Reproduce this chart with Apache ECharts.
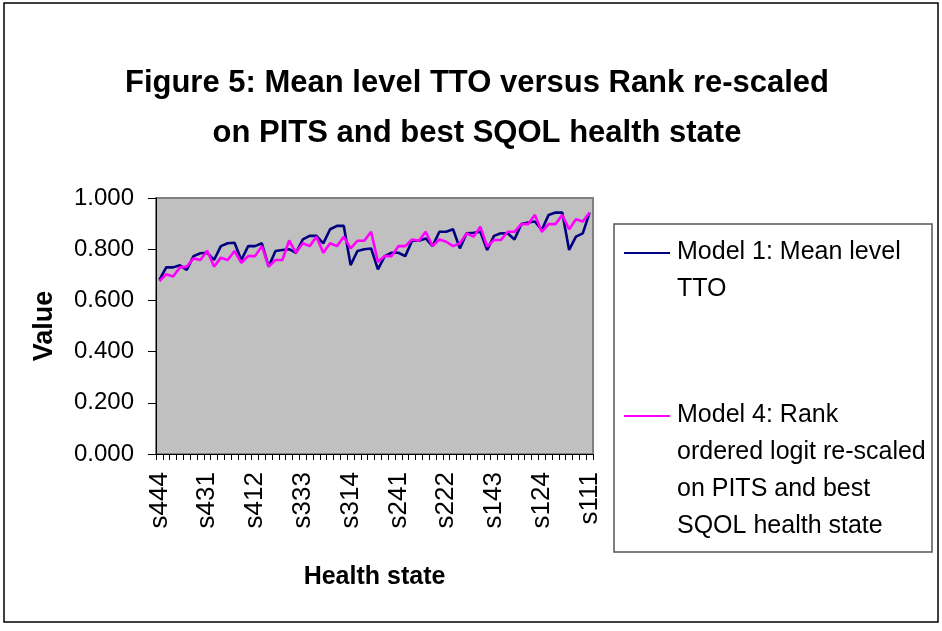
<!DOCTYPE html>
<html>
<head>
<meta charset="utf-8">
<script src="https://cdn.jsdelivr.net/npm/echarts@6/dist/echarts.min.js"></script>
<style>
  html, body { margin: 0; padding: 0; background: #fff; }
  #chart { width: 942px; height: 631px; }
</style>
</head>
<body>
<div id="chart"></div>
<script>
// health states, worst to best
var states = [
  's444','s443','s442','s441','s434','s433','s432','s431',
  's424','s423','s422','s421','s414','s413','s412','s411',
  's344','s343','s342','s341','s334','s333','s332','s331',
  's324','s323','s322','s321','s314','s313','s312','s311',
  's244','s243','s242','s241','s234','s233','s232','s231',
  's224','s223','s222','s221','s214','s213','s212','s211',
  's144','s143','s142','s141','s134','s133','s132','s131',
  's124','s123','s122','s121','s114','s113','s112','s111'
];

// Model 1: Mean level TTO
var model1 = [
  0.680,0.729,0.729,0.737,0.719,0.773,0.784,0.786,
  0.758,0.812,0.823,0.825,0.758,0.812,0.812,0.823,
  0.732,0.793,0.797,0.800,0.786,0.838,0.852,0.852,
  0.823,0.878,0.891,0.891,0.738,0.793,0.800,0.803,
  0.721,0.773,0.786,0.786,0.773,0.833,0.833,0.842,
  0.812,0.868,0.868,0.878,0.803,0.862,0.864,0.868,
  0.797,0.852,0.862,0.862,0.838,0.898,0.904,0.908,
  0.875,0.934,0.943,0.943,0.797,0.849,0.862,0.943
];

// Model 4: Rank ordered logit re-scaled
var model4 = [
  0.675,0.702,0.693,0.729,0.732,0.764,0.758,0.794,
  0.732,0.767,0.758,0.793,0.747,0.773,0.773,0.812,
  0.732,0.758,0.758,0.834,0.786,0.823,0.812,0.849,
  0.786,0.823,0.812,0.849,0.803,0.833,0.833,0.868,
  0.751,0.773,0.773,0.812,0.812,0.838,0.833,0.868,
  0.812,0.838,0.829,0.812,0.823,0.862,0.849,0.888,
  0.810,0.836,0.836,0.868,0.868,0.898,0.898,0.934,
  0.868,0.898,0.898,0.934,0.878,0.917,0.908,0.943
];

var legendLines1 = ['Model 1: Mean level', 'TTO'];
var legendLines4 = ['Model 4: Rank', 'ordered logit re-scaled', 'on PITS and best', 'SQOL health state'];

var FONT = '"Liberation Sans", Arial, sans-serif';
var chart = echarts.init(document.getElementById('chart'));

var option = {
  animation: false,
  backgroundColor: '#fff',
  textStyle: { fontFamily: FONT, color: '#000' },
  title: {
    text: 'Figure 5: Mean level TTO versus Rank re-scaled\non PITS and best SQOL health state',
    left: 472,
    top: 53,
    textAlign: 'center',
    textStyle: { fontFamily: FONT, fontSize: 31, fontWeight: 'bold', lineHeight: 50, color: '#000' }
  },
  grid: {
    left: 156, right: 349, top: 198, bottom: 177,
    show: true,
    backgroundColor: '#c0c0c0',
    borderColor: '#808080',
    borderWidth: 2
  },
  xAxis: {
    type: 'category',
    data: states,
    boundaryGap: true,
    name: 'Health state',
    nameLocation: 'middle',
    nameGap: 111,
    nameTextStyle: { fontFamily: FONT, fontSize: 25, fontWeight: 'bold', color: '#000' },
    axisLine: { show: true, lineStyle: { color: '#000', width: 1 } },
    axisTick: { show: true, interval: 0, length: 6, lineStyle: { color: '#000' } },
    axisLabel: { interval: 6, rotate: 90, margin: 18, fontSize: 26, fontFamily: FONT, color: '#000' },
    splitLine: { show: false }
  },
  yAxis: {
    type: 'value',
    min: 0, max: 1, interval: 0.2,
    name: 'Value',
    nameLocation: 'middle',
    nameGap: 98,
    nameTextStyle: { fontFamily: FONT, fontSize: 27, fontWeight: 'bold', color: '#000' },
    axisLine: { show: true, lineStyle: { color: '#000', width: 1 } },
    axisTick: { show: true, length: 8, lineStyle: { color: '#000' } },
    axisLabel: {
      margin: 22, fontSize: 24, fontFamily: FONT, color: '#000',
      formatter: function (v) { return v.toFixed(3); }
    },
    splitLine: { show: false }
  },
  series: [
    {
      name: 'Model 1: Mean level TTO',
      type: 'line',
      data: model1,
      showSymbol: false,
      lineStyle: { color: '#000080', width: 2.6 },
      itemStyle: { color: '#000080' }
    },
    {
      name: 'Model 4: Rank ordered logit re-scaled on PITS and best SQOL health state',
      type: 'line',
      data: model4,
      showSymbol: false,
      lineStyle: { color: '#ff00ff', width: 2.6 },
      itemStyle: { color: '#ff00ff' }
    }
  ],
  graphic: []
};

// outer frame + legend box drawn by hand (legend text wraps like the original)
var g = [];
g.push({ type: 'rect', shape: { x: 4, y: 3, width: 934, height: 619 },
  style: { fill: null, stroke: '#000', lineWidth: 1.5 }, silent: true });
g.push({ type: 'rect', shape: { x: 614, y: 224, width: 318, height: 328 },
  style: { fill: '#fff', stroke: '#555', lineWidth: 1.5 }, silent: true });

function legendItem(color, lines, y0) {
  g.push({ type: 'line', shape: { x1: 624, y1: y0, x2: 670, y2: y0 },
    style: { stroke: color, lineWidth: 2 }, silent: true });
  for (var i = 0; i < lines.length; i++) {
    g.push({ type: 'text', left: 677, top: y0 - 13 + i * 37,
      style: { text: lines[i], font: '25px ' + FONT, fill: '#000' }, silent: true });
  }
}
legendItem('#000080', legendLines1, 253);
legendItem('#ff00ff', legendLines4, 416);
option.graphic = g;

chart.setOption(option);
</script>
</body>
</html>
